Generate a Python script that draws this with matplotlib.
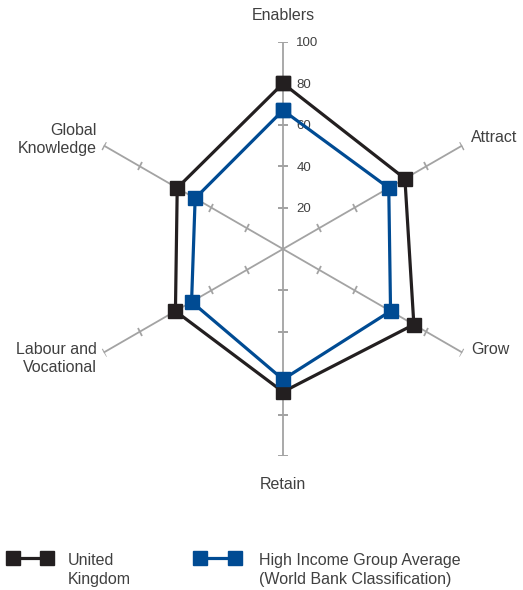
import matplotlib.pyplot as plt
import numpy as np
from matplotlib.markers import MarkerStyle
from matplotlib.transforms import Affine2D
from matplotlib.lines import Line2D

plt.rcParams['font.family'] = ['Liberation Sans', 'DejaVu Sans']

categories = ['Enablers', 'Attract', 'Grow', 'Retain', 'Labour and\nVocational', 'Global\nKnowledge']
uk = [80, 68, 73, 69, 60, 59]
high_income = [67, 59, 60, 63, 51, 49]
tick_values = [20, 40, 60, 80, 100]
series_names = ['United\nKingdom', 'High Income Group Average\n(World Bank Classification)']

uk_col = '#231f20'
hi_col = '#004b93'
axis_col = '#a3a3a3'
text_col = '#404040'

fig = plt.figure(figsize=(5.23, 5.90), dpi=100)
ax = fig.add_axes([0.1453, 0.2271, 0.7916, 0.7017], projection='polar')
ax.set_theta_zero_location('N')
ax.set_theta_direction(-1)
ax.set_ylim(0, 100)
ax.grid(False)
ax.spines['polar'].set_visible(False)
ax.set_xticks([])
ax.set_yticks([])
ax.patch.set_alpha(0)

n = len(categories)
angles = np.arange(n) * 2 * np.pi / n

# spokes with small cross ticks
for i, a in enumerate(angles):
    ax.plot([a, a], [0, 100], color=axis_col, lw=1.3, zorder=1)
    m = MarkerStyle('_', transform=Affine2D().rotate_deg(-np.degrees(a)))
    ax.plot([a] * len(tick_values), tick_values, ls='none', marker=m,
            markersize=7, markeredgewidth=1.3, color=axis_col, zorder=1)

# value labels on the top spoke
for v in tick_values:
    ax.annotate(str(v), xy=(0, v), xytext=(9.5, -1), textcoords='offset points',
                ha='left', va='center', fontsize=9.5, color=text_col, zorder=1)

# category labels (angle deg, radius, ha)
label_pos = [(0, 113, 'center'), (59.2, 105.5, 'left'), (118.1, 103.3, 'left'),
             (180, 114, 'center'), (239.5, 104.6, 'right'), (300.5, 104.6, 'right')]
for lab, (t, r, ha) in zip(categories, label_pos):
    ax.text(np.radians(t), r, lab, ha=ha, va='center', fontsize=11.5,
            color=text_col, linespacing=1.25, clip_on=False)

th = np.append(angles, angles[0])
ax.plot(th, uk + uk[:1], color=uk_col, lw=2.3, marker='s', markersize=10,
        zorder=3, clip_on=False)
ax.plot(th, high_income + high_income[:1], color=hi_col, lw=2.3, marker='s',
        markersize=10, zorder=4, clip_on=False)

# legend drawn by hand
leg_y = 1 - 558 / 590
for (x0, x1, xt), col, name in zip([(13, 47, 68), (200, 235, 259)],
                                   [uk_col, hi_col], series_names):
    fig.add_artist(Line2D([x0 / 523, x1 / 523], [leg_y, leg_y], color=col,
                          lw=2.3, marker='s', markersize=10,
                          transform=fig.transFigure))
    fig.text(xt / 523, 1 - 553 / 590, name, ha='left', va='top', fontsize=11.5,
             color=text_col, linespacing=1.3)

fig.savefig('out.png', dpi=100)
